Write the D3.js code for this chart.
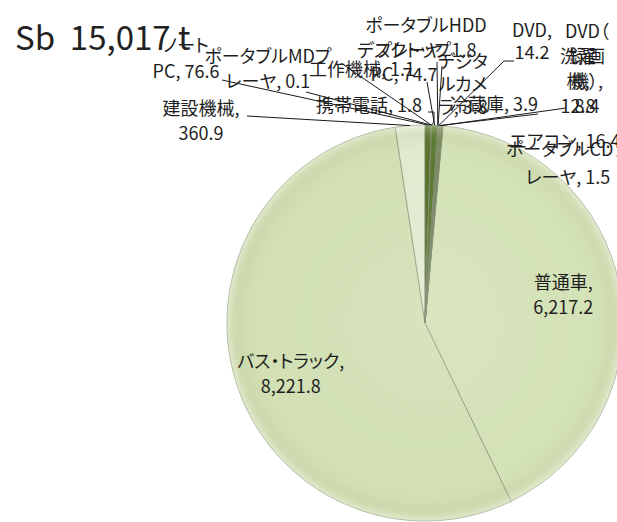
<!DOCTYPE html>
<html>
<head>
<meta charset="utf-8">
<script src="https://cdn.jsdelivr.net/npm/d3@7"></script>
<style>
  body { margin: 0; background: #fff; }
  text { font-family: "Noto Sans CJK JP", "Noto Sans", sans-serif; }
</style>
</head>
<body>
<svg id="chart" width="617" height="522"></svg>
<script>
// Antimony (Sb) stock by product, tonnes
const categories = [
  "普通車", "バス・トラック", "建設機械", "ノートPC", "ポータブルMDプレーヤ",
  "工作機械", "携帯電話", "デスクトップPC", "ポータブルHDDプレーヤ", "デジタルカメラ",
  "DVD", "冷蔵庫", "DVD（録画機）", "洗濯機", "エアコン", "ポータブルCDプレーヤ"
];
const values = [
  6217.2, 8221.8, 360.9, 76.6, 0.1,
  1.1, 1.8, 74.7, 1.8, 3.8,
  14.2, 3.9, 8.4, 12.8, 16.4, 1.5
];
const sliceColors = [
  "#d4e2b7", "#d2e0b4", "#e2ead0", "#56702a", "#7d9a42",
  "#4f6626", "#6f8b37", "#5a7830", "#8aa84c", "#4d6424",
  "#668531", "#7f9c44", "#587429", "#6c8a36", "#5f7c2e", "#82a048"
];
const titleText = "Sb  15,017 t";

// Label text lines; "{v}" is replaced by the slice value
const labelLines = [
  ["普通車,", "{v}"],
  ["バス・トラック,", "{v}"],
  ["建設機械,", "{v}"],
  ["ノート", "PC, {v}"],
  ["ポータブルMDプ", "レーヤ, {v}"],
  ["工作機械, {v}"],
  ["携帯電話, {v}"],
  ["デスクトップ", "PC, {v}"],
  ["ポータブルHDD", "プレーヤ, {v}"],
  ["デジタ", "ルカメ", "ラ, {v}"],
  ["DVD,", "{v}"],
  ["冷蔵庫, {v}"],
  ["DVD（", "録画", "機）,", "{v}"],
  ["洗濯", "機,", "{v}"],
  ["エアコン, {v}"],
  ["ポータブルCDプ", "レーヤ, {v}"]
];

// Label placement: centre x, first baseline, line step, leader path start (null = none)
const labelLayout = [
  { inside: true, dy: -4 },
  { inside: true, dy: 8 },
  { cx: 201, y: 115, step: 25, lead: [[247, 116]] },
  { cx: 186, y: 52, step: 26, lead: [[222, 80]] },
  { cx: 268, y: 63, step: 25, lead: [[306, 92]] },
  { cx: 362, y: 76, step: 25, lead: [[341, 63]] },
  { cx: 369, y: 112, step: 25, lead: [[428, 112], [434, 112], [434, 122]] },
  { cx: 404, y: 57, step: 24, lead: [[427, 82]] },
  { cx: 426, y: 32, step: 25, lead: [[437, 62]] },
  { cx: 463, y: 68, step: 23, lead: [[442, 66]] },
  { cx: 532, y: 37, step: 22, lead: [[514, 61], [504, 61]] },
  { cx: 494, y: 111, step: 25, lead: [[538, 114]] },
  { cx: 587, y: 38, step: 25, lead: null },
  { cx: 578, y: 63, step: 25, lead: [[566, 108]] },
  { cx: 565, y: 148, step: 25, lead: null },
  { cx: 568, y: 156, step: 28, lead: null }
];

const W = 617, H = 522;
const cx = 425, cy = 323, R = 198;
const fmt = d3.format(",.1f");

const svg = d3.select("#chart");
svg.append("rect").attr("width", W).attr("height", H).attr("fill", "#fff");

const data = categories.map((c, i) => ({ name: c, value: values[i], i }));
const total = d3.sum(values);
// the smaller items wrap around past twelve o'clock, the large ones follow
const tail = d3.sum(values.slice(3));
const start = 2 * Math.PI * tail / total;

const pie = d3.pie().value(d => d.value).sort(null)
  .startAngle(start).endAngle(start + 2 * Math.PI);
const arcs = pie(data);

const arc = d3.arc().innerRadius(0).outerRadius(R);
const rim = d3.arc().innerRadius(R).outerRadius(R);

const defs = svg.append("defs");
const grad = defs.append("radialGradient").attr("id", "soft")
  .attr("gradientUnits", "userSpaceOnUse")
  .attr("cx", cx).attr("cy", cy).attr("r", R);
grad.append("stop").attr("offset", "0%").attr("stop-color", "#fff").attr("stop-opacity", 0.12);
grad.append("stop").attr("offset", "80%").attr("stop-color", "#fff").attr("stop-opacity", 0.0);
grad.append("stop").attr("offset", "93%").attr("stop-color", "#8da05f").attr("stop-opacity", 0.08);
grad.append("stop").attr("offset", "100%").attr("stop-color", "#fff").attr("stop-opacity", 0.35);

const g = svg.append("g").attr("transform", `translate(${cx},${cy})`);
g.selectAll("path.slice").data(arcs).join("path")
  .attr("class", "slice")
  .attr("d", arc)
  .attr("fill", d => sliceColors[d.data.i])
  .attr("stroke", "#7f8b70")
  .attr("stroke-width", 0.8)
  .attr("stroke-opacity", 0.8);

svg.append("circle").attr("cx", cx).attr("cy", cy).attr("r", R)
  .attr("fill", "url(#soft)");

// leader lines
const line = d3.line();
arcs.forEach(d => {
  const lay = labelLayout[d.data.i];
  if (lay.inside || !lay.lead) return;
  const p = rim.centroid(d);
  const pts = lay.lead.concat([[p[0] + cx, p[1] + cy]]);
  svg.append("path").attr("d", line(pts))
    .attr("fill", "none").attr("stroke", "#1a1a1a").attr("stroke-width", 1);
});

// labels
const labelArc = d3.arc().innerRadius(R * 0.71).outerRadius(R * 0.71);
arcs.forEach(d => {
  const lay = labelLayout[d.data.i];
  const lines = labelLines[d.data.i].map(s => s.replace("{v}", fmt(d.data.value)));
  let x, y, step;
  if (lay.inside) {
    const c = labelArc.centroid(d);
    x = c[0] + cx; step = 25;
    y = c[1] + cy - 5 + lay.dy;
  } else {
    x = lay.cx; y = lay.y; step = lay.step;
  }
  const t = svg.append("text")
    .attr("text-anchor", "middle")
    .attr("font-size", 18)
    .attr("fill", "#1e1e1e")
    .style("font-feature-settings", "'palt'");
  lines.forEach((s, k) => {
    t.append("tspan").attr("x", x).attr("y", y + k * step).text(s);
  });
});

// title
svg.append("text").attr("x", 15).attr("y", 50)
  .attr("font-family", "'Open Sans', 'Liberation Sans', sans-serif")
  .attr("font-size", 33).attr("fill", "#222")
  .attr("xml:space", "preserve")
  .style("white-space", "pre")
  .text(titleText);
</script>
</body>
</html>
